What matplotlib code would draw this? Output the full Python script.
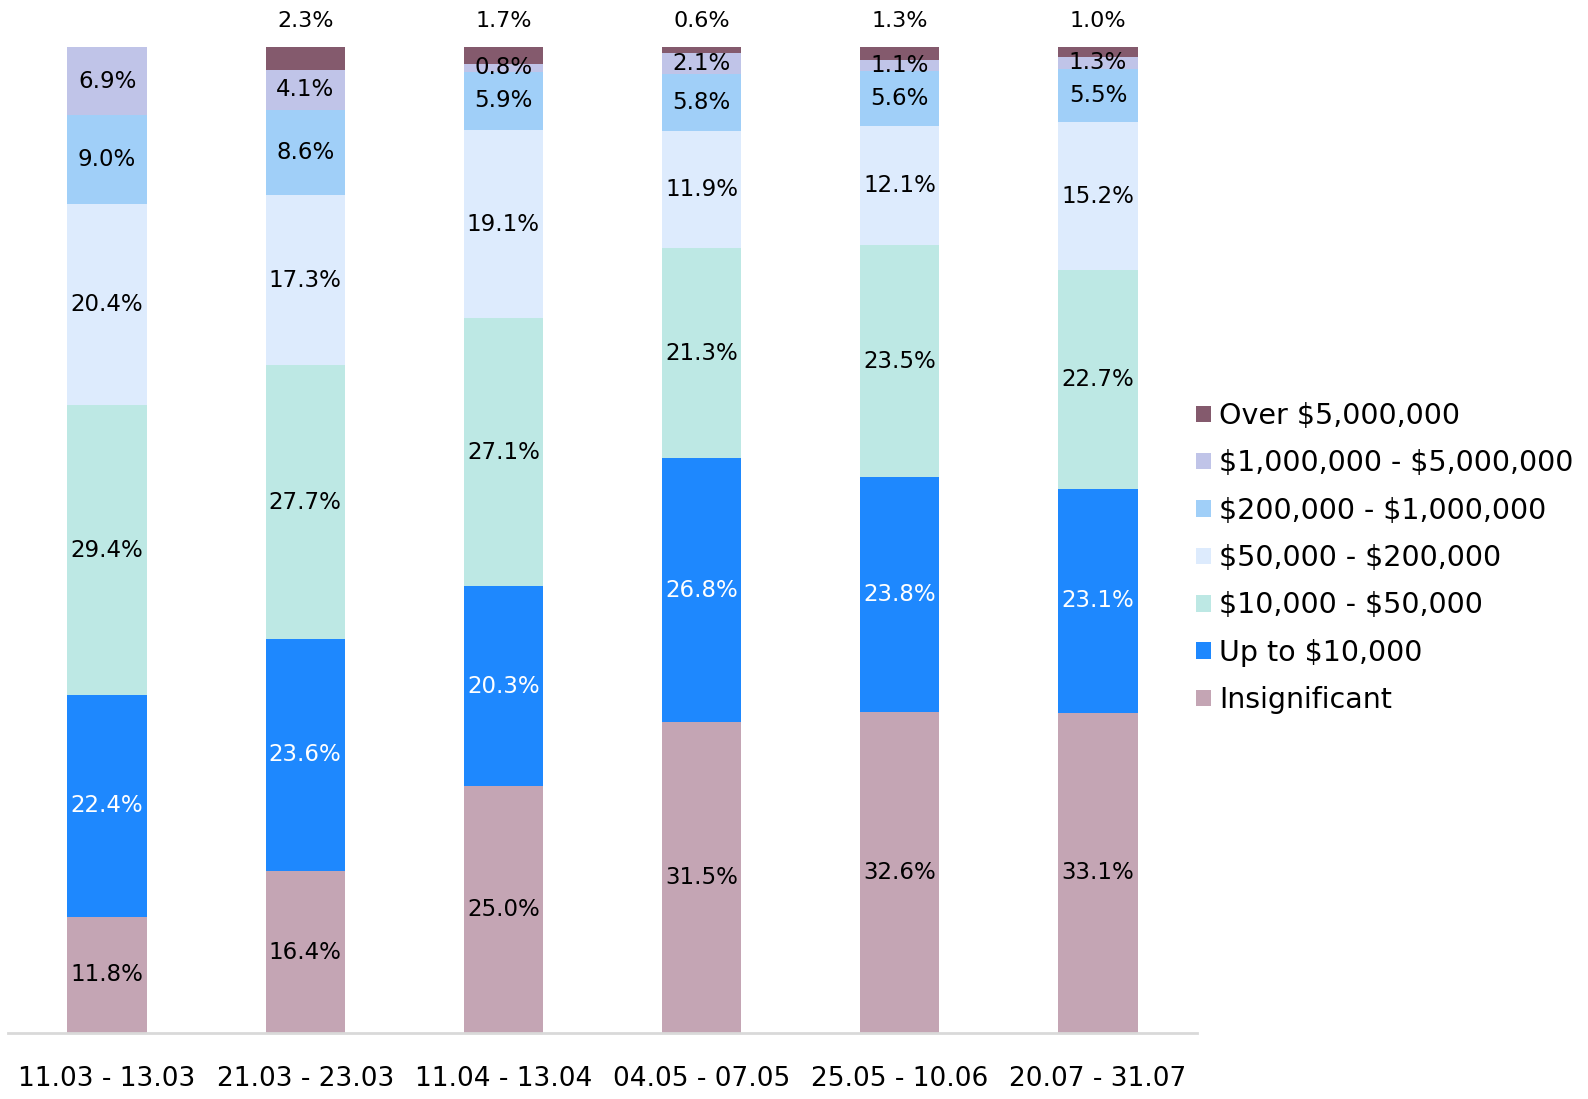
import matplotlib
matplotlib.use("Agg")
import matplotlib.pyplot as plt
from matplotlib.patches import Patch
import numpy as np

plt.rcParams['font.family'] = ['DejaVu Sans']
plt.rcParams['text.parse_math'] = False

periods = ["11.03 - 13.03", "21.03 - 23.03", "11.04 - 13.04", "04.05 - 07.05",
           "25.05 - 10.06", "20.07 - 31.07"]
categories = ["Insignificant", "Up to $10,000", "$10,000 - $50,000", "$50,000 - $200,000",
              "$200,000 - $1,000,000", "$1,000,000 - $5,000,000", "Over $5,000,000"]
insignificant = [11.8, 16.4, 25.0, 31.5, 32.6, 33.1]
up_to_10k = [22.4, 23.6, 20.3, 26.8, 23.8, 23.1]
k10_50 = [29.4, 27.7, 27.1, 21.3, 23.5, 22.7]
k50_200 = [20.4, 17.3, 19.1, 11.9, 12.1, 15.2]
k200_1m = [9.0, 8.6, 5.9, 5.8, 5.6, 5.5]
m1_5 = [6.9, 4.1, 0.8, 2.1, 1.1, 1.3]
over_5m = [0.0, 2.3, 1.7, 0.6, 1.3, 1.0]

series = [insignificant, up_to_10k, k10_50, k50_200, k200_1m, m1_5, over_5m]
colors = ["#C4A5B4", "#1E88FE", "#BDE8E4", "#DDEBFD", "#A0CFF8", "#C0C4E8", "#845A6D"]
text_colors = ["black", "white", "black", "black", "black", "black", "black"]

data = np.array(series)
totals = data.sum(axis=0)
norm = data / totals * 100

fig = plt.figure(figsize=(15.88, 10.99), dpi=100)
ax = fig.add_axes([8/1588, 1 - 1033/1099, 1189/1588, (1033 - 47)/1099])

x = np.arange(len(periods))
bottom = np.zeros(len(periods))
width = 0.4
for i, (vals, nv) in enumerate(zip(series, norm)):
    ax.bar(x, nv, width, bottom=bottom, color=colors[i], edgecolor='none')
    for j in range(len(periods)):
        if vals[j] <= 0:
            continue
        if i == len(series) - 1:
            ax.text(x[j], 102.6, f"{vals[j]:.1f}%", ha='center', va='center',
                    fontsize=16, color='black', clip_on=False)
        else:
            ax.text(x[j], bottom[j] + nv[j] / 2, f"{vals[j]:.1f}%", ha='center',
                    va='center', fontsize=16.5, color=text_colors[i])
    bottom += nv

ax.set_xlim(-0.5, 5.5)
ax.set_ylim(0, 100)
ax.set_xticks(x)
ax.set_xticklabels(periods, fontsize=19)
ax.tick_params(axis='x', length=0, pad=24)
ax.set_yticks([])
for s in ['top', 'right', 'left']:
    ax.spines[s].set_visible(False)
ax.spines['bottom'].set_color('#d9d9d9')
ax.spines['bottom'].set_linewidth(2)

handles = [Patch(facecolor=colors[i], edgecolor='none', label=categories[i])
           for i in range(len(categories) - 1, -1, -1)]
fig.legend(handles=handles, loc='center left', bbox_to_anchor=(1196/1588, 1 - 558/1099),
           frameon=False, fontsize=20.5, handlelength=0.52, handleheight=0.52,
           handletextpad=0.3, labelspacing=0.68, borderpad=0, borderaxespad=0)

fig.savefig("out.png", dpi=100)
